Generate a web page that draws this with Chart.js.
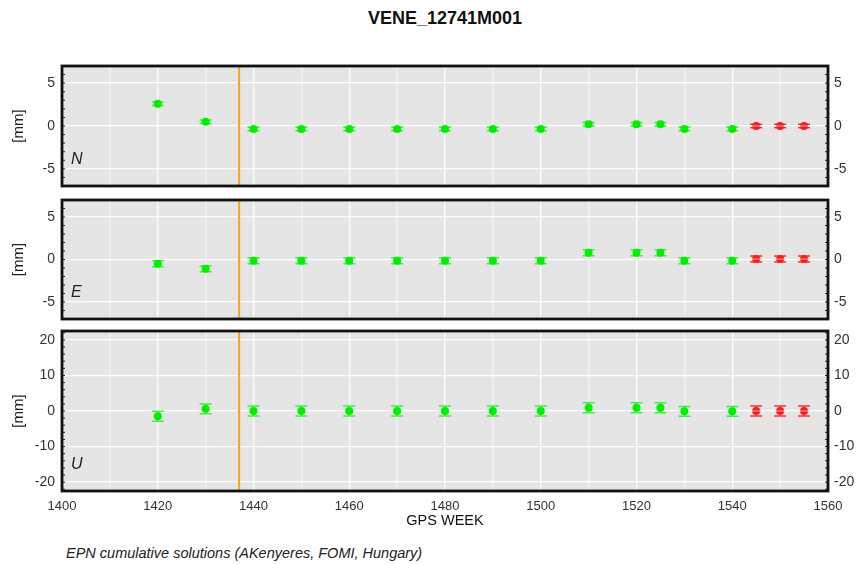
<!DOCTYPE html>
<html>
<head>
<meta charset="utf-8">
<script src="https://cdn.jsdelivr.net/npm/chart.js@4"></script>
<style>
  body { margin: 0; background: #fff; width: 859px; height: 565px; position: relative; overflow: hidden; font-family: "Liberation Sans", Arial, sans-serif; }
  canvas { position: absolute; left: 0; }
  #title { position: absolute; top: 8px; left: 0; width: 890px; text-align: center; font-weight: bold; font-size: 18px; color: #111; }
  #foot { position: absolute; top: 545px; left: 66px; font-style: italic; font-size: 14.5px; color: #222; }
</style>
</head>
<body>
<div id="title">VENE_12741M001</div>
<canvas id="cN" width="859" height="132" style="top:60px"></canvas>
<canvas id="cE" width="859" height="131" style="top:194px"></canvas>
<canvas id="cU" width="859" height="205" style="top:325px"></canvas>
<div id="foot">EPN cumulative solutions (AKenyeres, FOMI, Hungary)</div>
<script>
document.addEventListener("DOMContentLoaded", () => {

// GPS weeks of the solutions (green = old, red = latest)
const weeks = [1420, 1430, 1440, 1450, 1460, 1470, 1480, 1490, 1500, 1510, 1520, 1525, 1530, 1540]
const redWeeks = [1545, 1550, 1555]

// North
const nVals = [2.6, 0.5, -0.35, -0.35, -0.35, -0.35, -0.35, -0.35, -0.35, 0.2, 0.2, 0.2, -0.35, -0.35]
const nErr = [0.2, 0.2, 0.2, 0.2, 0.2, 0.2, 0.2, 0.2, 0.2, 0.2, 0.2, 0.2, 0.2, 0.2]
const nRed = [0, 0, 0]
const nRedErr = [0.2, 0.2, 0.2]

// East
const eVals = [-0.5, -1.1, -0.15, -0.15, -0.15, -0.15, -0.15, -0.15, -0.15, 0.8, 0.8, 0.8, -0.15, -0.15]
const eErr = [0.35, 0.35, 0.35, 0.35, 0.35, 0.35, 0.35, 0.35, 0.35, 0.35, 0.35, 0.35, 0.35, 0.35]
const eRed = [0.05, 0.05, 0.05]
const eRedErr = [0.35, 0.35, 0.35]

// Up
const uVals = [-1.5, 0.6, 0, 0, 0, 0, 0, 0, 0, 0.9, 0.9, 0.9, -0.1, -0.1]
const uErr = [1.4, 1.4, 1.4, 1.4, 1.4, 1.4, 1.4, 1.4, 1.4, 1.4, 1.4, 1.4, 1.4, 1.4]
const uRed = [0, 0, 0]
const uRedErr = [1.4, 1.4, 1.4]

// tick values
const xTicks = [1400, 1410, 1420, 1430, 1440, 1450, 1460, 1470, 1480, 1490, 1500, 1510, 1520, 1530, 1540, 1550, 1560]
const neTicks = [-5, 0, 5]
const uTicks = [-20, -10, 0, 10, 20]
const breakWeek = 1437   // orange line

const LEFT = 62, RIGHT = 31
const FONT = '"Liberation Sans", Arial, sans-serif'

// background, frame, orange line, error bars, panel letter
const panelPlugin = {
    id: 'panel',
    beforeDraw(chart) {
        const a = chart.chartArea, ctx = chart.ctx
        ctx.save()
        ctx.fillStyle = '#e5e5e5'
        ctx.fillRect(a.left, a.top, a.right - a.left, a.bottom - a.top)
        ctx.restore()
    },
    beforeDatasetsDraw(chart) {
        const a = chart.chartArea, ctx = chart.ctx
        const xs = chart.scales.x, ys = chart.scales.y
        ctx.save()
        // orange break line
        const bx = xs.getPixelForValue(breakWeek)
        ctx.strokeStyle = '#f7a21b'
        ctx.lineWidth = 2
        ctx.beginPath(); ctx.moveTo(bx, a.top); ctx.lineTo(bx, a.bottom); ctx.stroke()
        // error bars
        chart.data.datasets.forEach(ds => {
            ctx.strokeStyle = ds.barColor
            ctx.lineWidth = 1.5
            ds.data.forEach((p, i) => {
                const x = xs.getPixelForValue(p.x)
                const y1 = ys.getPixelForValue(p.y - ds.err[i])
                const y2 = ys.getPixelForValue(p.y + ds.err[i])
                ctx.beginPath()
                ctx.moveTo(x, y1); ctx.lineTo(x, y2)
                ctx.moveTo(x - 6, y1); ctx.lineTo(x + 6, y1)
                ctx.moveTo(x - 6, y2); ctx.lineTo(x + 6, y2)
                ctx.stroke()
            })
        })
        ctx.restore()
    },
    afterDatasetsDraw(chart, args, opts) {
        const a = chart.chartArea, ctx = chart.ctx
        const xs = chart.scales.x, ys = chart.scales.y
        ctx.save()
        // light stripe through red points
        const red = chart.data.datasets[1]
        ctx.strokeStyle = 'rgba(255,200,200,0.9)'
        ctx.lineWidth = 1
        red.data.forEach(p => {
            const x = xs.getPixelForValue(p.x), y = ys.getPixelForValue(p.y)
            ctx.beginPath(); ctx.moveTo(x - 4, y); ctx.lineTo(x + 4, y); ctx.stroke()
        })
        // inward minor ticks on both sides
        ctx.strokeStyle = '#222'
        ctx.lineWidth = 1
        for (let v = Math.ceil(ys.min); v <= ys.max; v += opts.minor) {
            const y = ys.getPixelForValue(v)
            ctx.beginPath()
            ctx.moveTo(a.left, y); ctx.lineTo(a.left + 3, y)
            ctx.moveTo(a.right, y); ctx.lineTo(a.right - 3, y)
            ctx.stroke()
        }
        // frame
        ctx.strokeStyle = '#111'
        ctx.lineWidth = 2.8
        ctx.strokeRect(a.left, a.top, a.right - a.left, a.bottom - a.top)
        // component letter
        ctx.fillStyle = '#222'
        ctx.font = 'italic 16px ' + FONT
        ctx.textBaseline = 'middle'
        ctx.fillText(opts.letter, a.left + 9, a.bottom - 26)
        ctx.restore()
    }
}

function makePanel(id, vals, err, red, redErr, lim, yTicks, letter, minor, showX) {
    const ctx = document.getElementById(id).getContext('2d')
    const yFont = { family: FONT, size: 14 }
    const noPad = s => { s.paddingTop = 0; s.paddingBottom = 0 }
    return new Chart(ctx, {
        type: 'scatter',
        data: {
            datasets: [{
                data: weeks.map((w, i) => ({ x: w, y: vals[i] })),
                err: err,
                barColor: '#3cf03c',
                pointRadius: 4,
                pointBackgroundColor: '#00ee00',
                pointBorderWidth: 0
            }, {
                data: redWeeks.map((w, i) => ({ x: w, y: red[i] })),
                err: redErr,
                barColor: '#ff3030',
                pointRadius: 4,
                pointBackgroundColor: '#ff1a1a',
                pointBorderWidth: 0
            }]
        },
        options: {
            responsive: false,
            animation: false,
            layout: { padding: { top: 6, bottom: showX ? 0 : 6 } },
            plugins: {
                legend: { display: false },
                tooltip: { enabled: false },
                panel: { letter: letter, minor: minor }
            },
            scales: {
                x: {
                    type: 'linear', min: 1400, max: 1560,
                    afterBuildTicks: s => { s.ticks = xTicks.map(v => ({ value: v })) },
                    afterFit: s => { s.height = showX ? 39 : 0 },
                    border: { display: false },
                    grid: {
                        drawTicks: false,
                        lineWidth: 1.3,
                        color: c => (c.tick && c.tick.value % 20 === 0) ? 'rgba(255,255,255,0.95)' : 'rgba(255,255,255,0.5)'
                    },
                    ticks: {
                        display: showX, padding: 8, color: '#333', font: { family: FONT, size: 13 }, maxRotation: 0,
                        callback: v => v % 20 === 0 ? v : ''
                    },
                    title: { display: showX, text: 'GPS WEEK', color: '#111', font: { family: FONT, size: 14.5 }, padding: { top: 0, bottom: 0 } }
                },
                y: {
                    position: 'left', min: -lim, max: lim,
                    afterBuildTicks: s => { s.ticks = yTicks.map(v => ({ value: v })) },
                    afterFit: s => { s.width = LEFT; noPad(s) },
                    border: { display: false },
                    grid: { drawTicks: false, color: 'rgba(255,255,255,0.95)', lineWidth: 1.3 },
                    ticks: { padding: 7, color: '#333', font: yFont },
                    title: { display: true, text: '[mm]', color: '#222', font: { family: FONT, size: 15 }, padding: { top: 10, bottom: 0 } }
                },
                y2: {
                    position: 'right', min: -lim, max: lim,
                    afterBuildTicks: s => { s.ticks = yTicks.map(v => ({ value: v })) },
                    afterFit: s => { s.width = RIGHT; noPad(s) },
                    border: { display: false },
                    grid: { display: false, drawTicks: false },
                    ticks: { padding: 6, color: '#333', font: yFont }
                }
            }
        },
        plugins: [panelPlugin]
    })
}

makePanel('cN', nVals, nErr, nRed, nRedErr, 7, neTicks, 'N', 1, false)
makePanel('cE', eVals, eErr, eRed, eRedErr, 7, neTicks, 'E', 1, false)
makePanel('cU', uVals, uErr, uRed, uRedErr, 22.5, uTicks, 'U', 2, true)

})
</script>
</body>
</html>
